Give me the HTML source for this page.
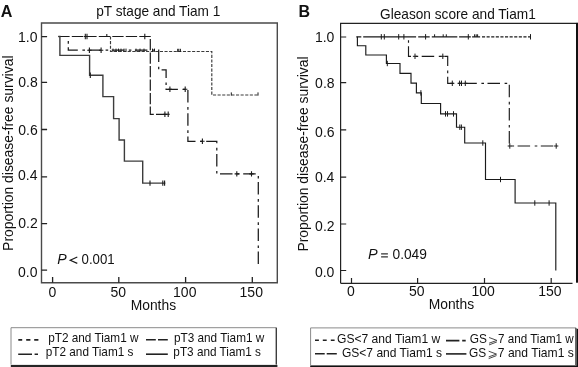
<!DOCTYPE html>
<html><head><meta charset="utf-8"><style>
html,body{margin:0;padding:0;background:#fff;width:578px;height:367px;overflow:hidden}
svg{display:block;will-change:transform}
</style></head><body>
<svg width="578" height="367" viewBox="0 0 578 367" font-family='"Liberation Sans", sans-serif' fill="#111"><rect width="578" height="367" fill="#fff"/><path d="M41.5 23.0H277.3V282.8H41.5Z" stroke="#4a4a4a" stroke-width="1.4" fill="none"/><path d="M340.6 283.3V23.3H576.0" stroke="#222" stroke-width="1.2" fill="none"/><path d="M340.6 283.3H572.5" stroke="#222" stroke-width="1.2" fill="none"/><rect x="576" y="22.7" width="2" height="260.0" fill="#111"/><path d="M41.5 36.6H47.1M41.5 82.4H47.1M41.5 129.5H47.1M41.5 176.9H47.1M41.5 223.6H47.1M41.5 270.2H47.1M52.6 282.8V277.0M118.8 282.8V277.0M185.6 282.8V277.0M252.3 282.8V277.0" stroke="#222" stroke-width="1.3" fill="none"/><path d="M340.6 37.0H346.20000000000005M340.6 82.6H346.20000000000005M340.6 129.9H346.20000000000005M340.6 177.1H346.20000000000005M340.6 224.0H346.20000000000005M340.6 270.5H346.20000000000005M351.5 283.3V277.90000000000003M417.6 283.3V277.90000000000003M484.5 283.3V277.90000000000003M551.2 283.3V277.90000000000003" stroke="#222" stroke-width="1.2" fill="none"/><path d="M58.3 36.5H150.3V114.3H169.5" stroke="#1a1a1a" stroke-width="1.2" fill="none" stroke-dasharray="11.3 2.2"/><path d="M85.3 33.8V39.2M87.0 33.8V39.2M144.8 33.8V39.2M164.9 111.6V117.0M168.2 111.6V117.0M83.7 36.5H86.89999999999999M85.4 36.5H88.6M143.20000000000002 36.5H146.4M163.3 114.3H166.5M166.6 114.3H169.79999999999998" stroke="#1a1a1a" stroke-width="1.1" fill="none"/><path d="M106.8 34.0V36.8" stroke="#1a1a1a" stroke-width="1.1" fill="none"/><path d="M58.3 36.5H59.9V55.4H89.6V75.3H102.9V96.6H113.6V118.6H119.1V140H124.4V161.1H142.7V183.1H165.3" stroke="#3c3c3c" stroke-width="1.4" fill="none"/><path d="M90.3 72.6V78.0M150 180.4V185.79999999999998M162.8 180.4V185.79999999999998M164.6 180.4V185.79999999999998" stroke="#1a1a1a" stroke-width="1.1" fill="none"/><path d="M110.5 36.5V51.5H211.8V95.0H258" stroke="#3a3a3a" stroke-width="1.15" fill="none" stroke-dasharray="3.1 1.5"/><path d="M113 48.6V51.800000000000004M116 48.6V51.800000000000004M118.5 48.6V51.800000000000004M121 48.6V51.800000000000004M124 48.6V51.800000000000004M126 48.6V51.800000000000004M136 48.6V51.800000000000004M140 48.6V51.800000000000004M144 48.6V51.800000000000004M152.5 48.6V51.800000000000004M154.5 48.6V51.800000000000004M177.7 48.8V52.0M178.8 48.8V52.0M180.4 48.8V52.0M231.3 92.4V95.6M258 92.4V95.6" stroke="#1a1a1a" stroke-width="1.0" fill="none"/><path d="M68.3 36.5V50.2H158.7V69.9H166.1V89.3H187.9V141.3H216.8V173.9H258.3V265.3" stroke="#1a1a1a" stroke-width="1.25" fill="none" stroke-dasharray="12.5 4.6 2.6 3.5" stroke-dashoffset="12.5"/><path d="M89.4 47.5V52.900000000000006M101.1 47.5V52.900000000000006M169.9 86.6V92.0M185.2 86.6V92.0M202.4 138.60000000000002V144.0M236.8 171.20000000000002V176.6M251.5 171.20000000000002V176.6M87.2 50.2H91.60000000000001M98.89999999999999 50.2H103.3M167.70000000000002 89.3H172.1M183.0 89.3H187.39999999999998M200.20000000000002 141.3H204.6M234.60000000000002 173.9H239.0M249.3 173.9H253.7" stroke="#1a1a1a" stroke-width="1.1" fill="none"/><path d="M356.3 36.8H361.3M363.2 36.8H416.1M418.2 36.8H429.7M431.8 36.8H457.3M459.1 36.8H470.8M472.1 36.8H480.1" stroke="#1a1a1a" stroke-width="1.15" fill="none"/><path d="M482 36.8H531" stroke="#1a1a1a" stroke-width="1.15" fill="none" stroke-dasharray="3.1 1.5"/><path d="M381.3 34.099999999999994V39.5M384.3 34.099999999999994V39.5M398.7 34.099999999999994V39.5M403.9 34.099999999999994V39.5M425.6 34.099999999999994V39.5M468.3 34.099999999999994V39.5M530.5 34.099999999999994V39.5" stroke="#1a1a1a" stroke-width="1.0" fill="none"/><path d="M434.6 34.300000000000004V36.9M443.2 34.300000000000004V36.9M446.3 34.300000000000004V36.9M474.6 34.300000000000004V36.9M476.2 34.300000000000004V36.9M477.6 34.300000000000004V36.9" stroke="#1a1a1a" stroke-width="1.0" fill="none"/><path d="M357.4 36.8V45.7H365.8V55.0H386.4V63.5H400.0V73.4H411.0V83.1H416.4V92.9H421.3V103.5H440.6V113.9H456.5V127.2H464.7V143H485.5V179.5H515.1V203H555.8V270.5" stroke="#1a1a1a" stroke-width="1.15" fill="none"/><path d="M387.3 60.8V66.2M420.9 90.2V95.60000000000001M445.5 111.2V116.60000000000001M447.5 111.2V116.60000000000001M453.5 111.2V116.60000000000001M459.8 124.5V129.9M461.4 124.5V129.9M482.8 140.3V145.7M500.5 176.8V182.2M534.8 200.3V205.7M549.1 200.3V205.7" stroke="#1a1a1a" stroke-width="1.0" fill="none"/><path d="M408.5 36.8V56.3H447.7V83.3H509.3V146H556.3" stroke="#1a1a1a" stroke-width="1.15" fill="none" stroke-dasharray="12.5 4.6 2.6 3.5" stroke-dashoffset="13.7"/><path d="M415 53.599999999999994V59.0M442.8 53.599999999999994V59.0M452.3 80.6V86.0M459.6 80.6V86.0M461.5 80.6V86.0M465.3 80.6V86.0M509.8 143.3V148.7M556.2 143.3V148.7M412.9 56.3H417.1M440.7 56.3H444.90000000000003M450.2 83.3H454.40000000000003M457.5 83.3H461.70000000000005M459.4 83.3H463.6M463.2 83.3H467.40000000000003M507.7 146H511.90000000000003M554.1 146H558.3000000000001" stroke="#1a1a1a" stroke-width="1.0" fill="none"/><path d="M11 364.5V327.7H276.3V364.5" stroke="#8a8a8a" stroke-width="1" fill="none"/><path d="M276.3 327.7V364.5" stroke="#333" stroke-width="1.2" fill="none"/><rect x="10.8" y="364.9" width="266.6" height="2.1" fill="#252525"/><path d="M310.6 365V327.9H575.9V365" stroke="#8a8a8a" stroke-width="1" fill="none"/><path d="M575.9 327.9V365" stroke="#333" stroke-width="1" fill="none"/><rect x="310.2" y="365.4" width="268" height="1.6" fill="#111"/><rect x="576.6" y="328.8" width="1.4" height="38.2" fill="#111"/><path d="M18.3 339.9H22.2M26.2 339.9H30.4M34.2 339.9H38.4" stroke="#222" stroke-width="1.7" fill="none"/><path d="M18.2 354.3H32.0M34.6 354.3H38.0" stroke="#222" stroke-width="1.6" fill="none"/><path d="M146 339.7H155.8M158 339.7H167.8" stroke="#222" stroke-width="1.6" fill="none"/><path d="M146 354.2H167.8" stroke="#222" stroke-width="1.6" fill="none"/><path d="M315 340.3H318.9M322.8 340.3H326.7M330.8 340.3H334.6" stroke="#222" stroke-width="1.6" fill="none"/><path d="M315 353.8H324.7M326.7 353.8H336.8" stroke="#222" stroke-width="1.6" fill="none"/><path d="M446 340.6H459.4M462.2 340.6H465.7" stroke="#222" stroke-width="1.6" fill="none"/><path d="M446 353.9H466.4" stroke="#222" stroke-width="1.6" fill="none"/><path d="M489.10 337.50L496.90 340.40L489.10 343.20M496.90 341.90L489.10 344.90" stroke="#333" stroke-width="0.9" fill="none"/><path d="M488.70 351.20L496.50 354.10L488.70 356.90M496.50 355.60L488.70 358.60" stroke="#333" stroke-width="0.9" fill="none"/><path d="M77.3 257.1L70.2 260.3L77.3 263.4" stroke="#1a1a1a" stroke-width="1.15" fill="none" stroke-linejoin="miter"/><path d="M381.1 253.8H387.9M381.1 256.8H387.9" stroke="#333" stroke-width="1.25" fill="none"/><text transform="translate(0.75 16.90) scale(0.9785 1)" font-size="16.5" font-weight="bold">A</text><text transform="translate(298.60 16.90) scale(0.9697 1)" font-size="16.5" font-weight="bold">B</text><text transform="translate(96.25 15.50) scale(0.9744 1)" font-size="14">pT stage and Tiam 1</text><text transform="translate(380.06 18.80) scale(0.9763 1)" font-size="14">Gleason score and Tiam1</text><text transform="translate(12.80 250.89) rotate(-90) scale(0.9936 1)" font-size="14">Proportion disease-free survival</text><text transform="translate(307.90 251.59) rotate(-90) scale(0.9920 1)" font-size="14">Proportion disease-free survival</text><text transform="translate(17.99 41.60)" font-size="14">1.0</text><text transform="translate(18.21 87.00)" font-size="14">0.8</text><text transform="translate(18.21 135.00)" font-size="14">0.6</text><text transform="translate(17.99 180.00)" font-size="14">0.4</text><text transform="translate(18.21 228.40)" font-size="14">0.2</text><text transform="translate(17.99 277.20)" font-size="14">0.0</text><text transform="translate(314.89 41.60)" font-size="14">1.0</text><text transform="translate(315.11 88.10)" font-size="14">0.8</text><text transform="translate(315.11 136.60)" font-size="14">0.6</text><text transform="translate(314.89 181.50)" font-size="14">0.4</text><text transform="translate(315.11 231.40)" font-size="14">0.2</text><text transform="translate(314.89 277.20)" font-size="14">0.0</text><text transform="translate(48.46 297.00)" font-size="14">0</text><text transform="translate(110.57 297.00)" font-size="14">50</text><text transform="translate(173.06 297.00)" font-size="14">100</text><text transform="translate(239.56 297.00)" font-size="14">150</text><text transform="translate(346.96 295.80)" font-size="14">0</text><text transform="translate(408.97 295.80)" font-size="14">50</text><text transform="translate(471.46 295.80)" font-size="14">100</text><text transform="translate(538.16 295.80)" font-size="14">150</text><text transform="translate(130.72 310.10) scale(0.9892 1)" font-size="14">Months</text><text transform="translate(428.72 308.70) scale(0.9892 1)" font-size="14">Months</text><text transform="translate(57.28 263.70) scale(1.0122 1)" font-size="14" font-style="italic">P</text><text transform="translate(81.59 263.70) scale(0.9462 1)" font-size="14">0.001</text><text transform="translate(368.07 258.80) scale(1.0340 1)" font-size="14" font-style="italic">P</text><text transform="translate(392.47 258.80) scale(0.9844 1)" font-size="14">0.049</text><text transform="translate(48.16 342.00) scale(0.9831 1)" font-size="12">pT2 and Tiam1 w</text><text transform="translate(45.76 356.10) scale(0.9825 1)" font-size="12">pT2 and Tiam1 s</text><text transform="translate(173.96 342.00) scale(0.9831 1)" font-size="12">pT3 and Tiam1 w</text><text transform="translate(173.36 356.10) scale(0.9814 1)" font-size="12">pT3 and Tiam1 s</text><text transform="translate(336.99 343.00) scale(1.0085 1)" font-size="12">GS&lt;7 and Tiam1 w</text><text transform="translate(341.90 356.90) scale(1.0047 1)" font-size="12">GS&lt;7 and Tiam1 s</text><text transform="translate(469.80 343.00) scale(0.9917 1)" font-size="12">GS</text><text transform="translate(498.12 343.00) scale(0.9692 1)" font-size="12">7 and Tiam1 w</text><text transform="translate(468.90 356.90) scale(0.9917 1)" font-size="12">GS</text><text transform="translate(497.79 356.90) scale(1.0095 1)" font-size="12">7 and Tiam1 s</text></svg>
</body></html>
